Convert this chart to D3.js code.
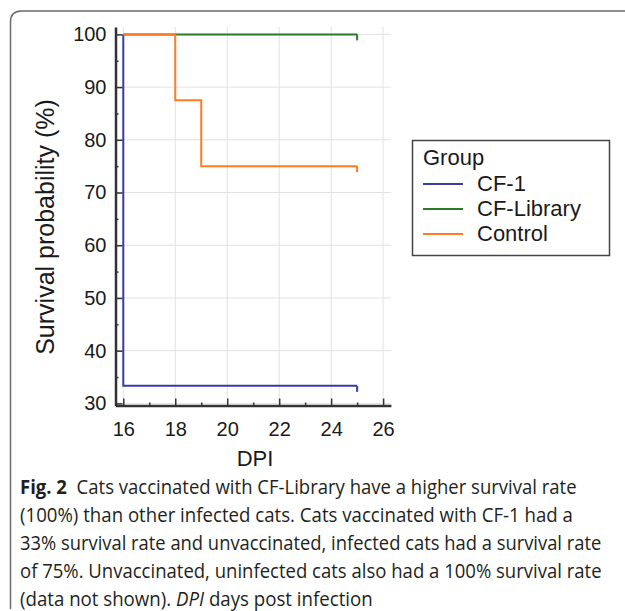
<!DOCTYPE html>
<html>
<head>
<meta charset="utf-8">
<script src="https://cdn.jsdelivr.net/npm/d3@7"></script>
<style>
  html, body { margin: 0; padding: 0; background: #fff; }
  svg { display: block; }
  .axis text { font-family: "Liberation Sans", Arial, sans-serif; font-size: 20px; fill: #1a1a1a; }
  .axis path, .axis line { stroke: #333; }
  .caption { font-family: "Open Sans", "Noto Sans", sans-serif; font-size: 20px; fill: #231f20; }
</style>
</head>
<body>
<svg id="chart" width="625" height="611"></svg>
<script>
// groups and their colours
const groups = ['CF-1', 'CF-Library', 'Control'];
const colors = ['#3b3ba6', '#2b7b2b', '#ff7b25'];

// Kaplan-Meier steps (day, survival %)
const cf1Days = [16, 16, 25];
const cf1Surv = [100, 33.33, 33.33];
const libDays = [16, 25];
const libSurv = [100, 100];
const ctrlDays = [16, 18, 19, 25];
const ctrlSurv = [100, 87.5, 75, 75];

const xTicks = [16, 18, 20, 22, 24, 26];
const xMinor = [17, 19, 21, 23, 25];
const yTicks = [30, 40, 50, 60, 70, 80, 90, 100];
const yMinor = [35, 45, 55, 65, 75, 85, 95];

const captionLines = [
  ['Fig. 2', '  Cats vaccinated with CF-Library have a higher survival rate'],
  ['', '(100%) than other infected cats. Cats vaccinated with CF-1 had a'],
  ['', '33% survival rate and unvaccinated, infected cats had a survival rate'],
  ['', 'of 75%. Unvaccinated, uninfected cats also had a 100% survival rate'],
  ['', '(data not shown). ', 'DPI', ' days post infection']
];
const captionWidths = [557, 553, 582, 582, 353];

const series = [
  { name: groups[0], days: cf1Days, surv: cf1Surv },
  { name: groups[1], days: libDays, surv: libSurv },
  { name: groups[2], days: ctrlDays, surv: ctrlSurv }
].map((s, i) => ({ ...s, color: colors[i], pts: s.days.map((d, j) => [d, s.surv[j]]) }));

const svg = d3.select('#chart');

// outer frame with a rounded top-left corner
svg.append('path')
  .attr('d', 'M10.5,609 L10.5,22 Q10.5,11 21.5,11 L626,11')
  .attr('fill', 'none')
  .attr('stroke', '#6b6b6b')
  .attr('stroke-width', 1.5);

const x = d3.scaleLinear().domain([15.7, 26.3]).range([115.5, 390.9]);
const y = d3.scaleLinear().domain([29.6, 101.4]).range([405.5, 27]);

// grid
const grid = svg.append('g').attr('stroke', '#e2e2e2').attr('stroke-width', 1);
grid.selectAll('.gx').data(xTicks).enter().append('line')
  .attr('x1', d => x(d)).attr('x2', d => x(d))
  .attr('y1', y.range()[1]).attr('y2', y.range()[0]);
grid.selectAll('.gy').data(yTicks).enter().append('line')
  .attr('x1', x.range()[0]).attr('x2', x.range()[1])
  .attr('y1', d => y(d)).attr('y2', d => y(d));

// survival curves
const line = d3.line()
  .x(d => x(d[0]))
  .y(d => y(d[1]))
  .curve(d3.curveStepAfter);

const curves = svg.append('g');
series.forEach(s => {
  curves.append('path')
    .attr('d', line(s.pts))
    .attr('fill', 'none')
    .attr('stroke', s.color)
    .attr('stroke-width', 2);
  const last = s.pts[s.pts.length - 1];
  // censor mark at end of follow-up
  curves.append('line')
    .attr('x1', x(last[0])).attr('x2', x(last[0]))
    .attr('y1', y(last[1])).attr('y2', y(last[1]) + 6)
    .attr('stroke', s.color)
    .attr('stroke-width', 2);
});

// axes, ticks pointing inward
svg.append('g')
  .attr('class', 'axis')
  .attr('transform', `translate(${x.range()[0]},0)`)
  .call(d3.axisLeft(y).tickValues(yTicks).tickSizeInner(-7).tickSizeOuter(0).tickPadding(9));
svg.append('g')
  .attr('class', 'axis')
  .attr('transform', `translate(${x.range()[0]},0)`)
  .call(d3.axisLeft(y).tickValues(yMinor).tickSizeInner(-3).tickSizeOuter(0).tickFormat(''))
  .select('.domain').remove();

svg.append('g')
  .attr('class', 'axis')
  .attr('transform', `translate(0,${y.range()[0]})`)
  .call(d3.axisBottom(x).tickValues(xTicks).tickSizeInner(-7).tickSizeOuter(0).tickPadding(16));
svg.append('g')
  .attr('class', 'axis')
  .attr('transform', `translate(0,${y.range()[0]})`)
  .call(d3.axisBottom(x).tickValues(xMinor).tickSizeInner(-3).tickSizeOuter(0).tickFormat(''))
  .select('.domain').remove();

svg.selectAll('.axis .domain').attr('stroke-width', 2.5);
svg.selectAll('.axis .tick line').attr('stroke-width', 1.5);

// axis titles
svg.append('text')
  .attr('transform', 'translate(54,227) rotate(-90)')
  .attr('text-anchor', 'middle')
  .style('font-family', '"Liberation Sans", Arial, sans-serif')
  .style('font-size', '25px')
  .attr('fill', '#1a1a1a')
  .text('Survival probability (%)');

svg.append('text')
  .attr('x', 255)
  .attr('y', 466)
  .attr('text-anchor', 'middle')
  .style('font-family', '"Liberation Sans", Arial, sans-serif')
  .style('font-size', '22px')
  .attr('fill', '#1a1a1a')
  .text('DPI');

// legend
const legend = svg.append('g')
  .style('font-family', '"Liberation Sans", Arial, sans-serif')
  .style('font-size', '22px');
legend.append('rect')
  .attr('x', 412.5).attr('y', 140.5)
  .attr('width', 197).attr('height', 115)
  .attr('fill', '#fff')
  .attr('stroke', '#444')
  .attr('stroke-width', 1.5);
legend.append('text')
  .attr('x', 423).attr('y', 165)
  .attr('fill', '#1a1a1a')
  .text('Group');
const items = legend.selectAll('.item').data(series).enter().append('g')
  .attr('transform', (d, i) => `translate(0,${191 + i * 25})`);
items.append('line')
  .attr('x1', 423).attr('x2', 463)
  .attr('y1', -7).attr('y2', -7)
  .attr('stroke', d => d.color)
  .attr('stroke-width', 2);
items.append('text')
  .attr('x', 477)
  .attr('fill', '#1a1a1a')
  .text(d => d.name);

// caption: each line squeezed horizontally to the width it has in the figure
const cap = svg.append('g').attr('class', 'caption');
captionLines.forEach((parts, i) => {
  const g = cap.append('g');
  const t = g.append('text')
    .attr('xml:space', 'preserve')
    .style('white-space', 'pre');
  parts.forEach((p, j) => {
    if (!p) return;
    const ts = t.append('tspan').text(p);
    if (i === 0 && j === 0) ts.style('font-weight', 'bold');
    if (i === 4 && j === 2) ts.style('font-style', 'italic');
  });
  const w = t.node().getComputedTextLength();
  const k = Math.min(1, captionWidths[i] / w);
  g.attr('transform', `translate(20,${494 + i * 28}) scale(${k},1)`);
});
</script>
</body>
</html>
